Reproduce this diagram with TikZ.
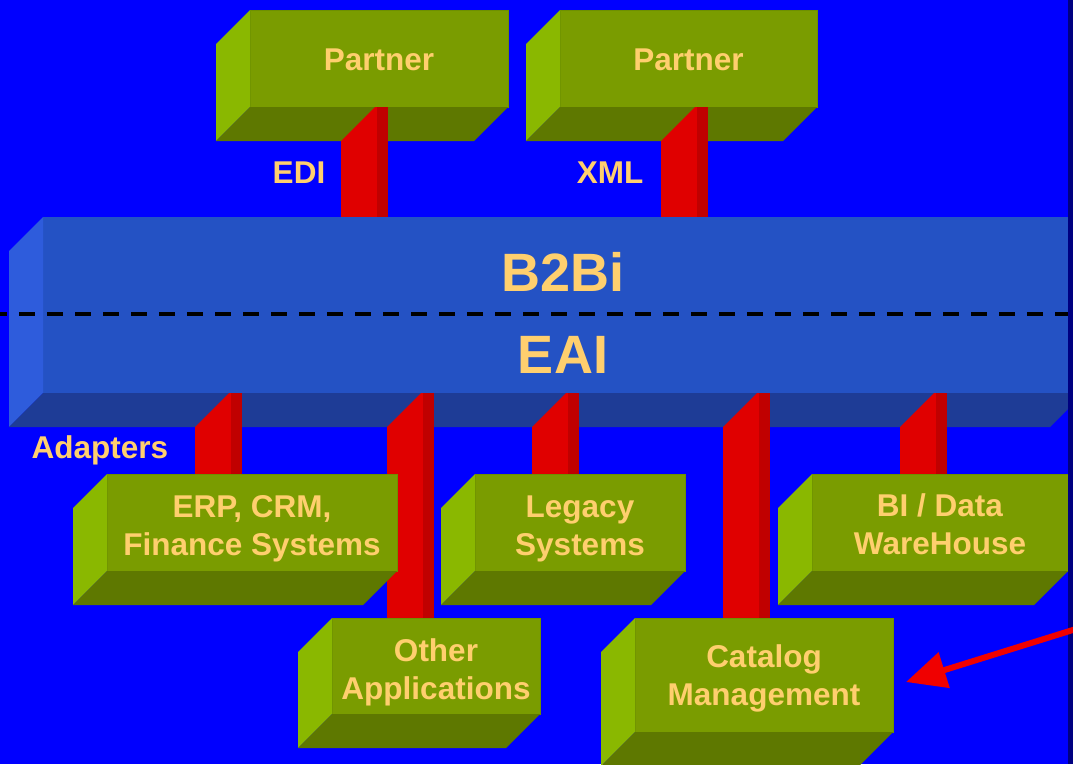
\documentclass[tikz,border=0pt]{standalone}
\usepackage{fontspec}
\setmainfont{Liberation Sans}
\usetikzlibrary{arrows.meta}
\definecolor{bgblue}{HTML}{0000FF}
\definecolor{navy}{HTML}{000080}
\definecolor{bfront}{HTML}{2452C4}
\definecolor{bleft}{HTML}{2E5CDC}
\definecolor{bbottom}{HTML}{1E3C96}
\definecolor{gfront}{HTML}{7A9C00}
\definecolor{gedge}{HTML}{6E9000}
\definecolor{gleft}{HTML}{8AB800}
\definecolor{gbottom}{HTML}{5E7800}
\definecolor{redL}{HTML}{E00000}
\definecolor{redD}{HTML}{C00000}
\definecolor{txt}{HTML}{FFCF6E}
\definecolor{arrowred}{HTML}{F00000}
\pgfdeclarelayer{lA}\pgfdeclarelayer{lB}\pgfdeclarelayer{lC}\pgfdeclarelayer{lD}\pgfdeclarelayer{bgl}
\pgfsetlayers{bgl,lA,lB,lC,lD,main}
\newcommand\boxsides[3]{%
  \fill[#2] (#1.north west) -- (#1.south west) -- ++(-34,34) -- ([shift={(-34,34)}]#1.north west) -- cycle;
  \fill[#3] (#1.south west) -- (#1.south east) -- ++(-34,34) -- ([shift={(-34,34)}]#1.south west) -- cycle;}
\newcommand\pillar[3]{%
  \fill[redL] (#1,0 |- #2) ++(0,34) -- ++(34,-34) -- ++(2,0) -- (#1+36,0 |- #3) -- (#1,0 |- #3) -- cycle;
  \fill[redD] (#1+36,0 |- #2) rectangle (#1+47,0 |- #3);}
\begin{document}
\begin{tikzpicture}[x=1pt,y=-1pt,
  lbl/.style={text=txt,font=\bfseries\fontsize{31.5}{38}\selectfont,align=center,inner sep=0pt},
  big/.style={text=txt,font=\bfseries\fontsize{54}{60}\selectfont,inner sep=0pt},
  gbox/.style={fill=gfront,draw=gedge,line width=1pt,outer sep=0pt,inner sep=0pt},
  bbox/.style={fill=bfront,outer sep=0pt,inner sep=0pt}]
\useasboundingbox (0,0) rectangle (1073,764);
\begin{pgfonlayer}{bgl}
\fill[bgblue] (0,0) rectangle (1073,764);
\end{pgfonlayer}
% Partner boxes
\begin{pgfonlayer}{lA}
\node[gbox,minimum width=258pt,minimum height=97pt] (p1) at (379,58.5) {};
\node[gbox,minimum width=257pt,minimum height=97pt] (p2) at (688.5,58.5) {};
\boxsides{p1}{gleft}{gbottom}
\boxsides{p2}{gleft}{gbottom}
\node[lbl] (p1t) at ([yshift=-1pt]p1.center) {Partner};
\node[lbl] (p2t) at ([yshift=-1pt]p2.center) {Partner};
\end{pgfonlayer}
% B2Bi / EAI bar
\begin{pgfonlayer}{lC}
\node[bbox,minimum width=1041pt,minimum height=176pt] (bus) at (563.5,305) {};
\boxsides{bus}{bleft}{bbottom}
\coordinate (dl) at (0,314);
\coordinate (dr) at (1073,314);
\draw[black,line width=4.5pt,dash pattern=on 16pt off 12pt,dash phase=9pt] (dl) -- (dr);
\node[big] (b2bi) at (563,272) {B2Bi};
\node[big] (eai) at (563,355) {EAI};
\end{pgfonlayer}
% lower boxes
\node[gbox,minimum width=290pt,minimum height=97pt] (erp) at (252,522.5) {};
\node[gbox,minimum width=210pt,minimum height=97pt] (legacy) at (580,522.5) {};
\node[gbox,minimum width=256pt,minimum height=97pt] (bi) at (940,522.5) {};
\boxsides{erp}{gleft}{gbottom}
\boxsides{legacy}{gleft}{gbottom}
\boxsides{bi}{gleft}{gbottom}
\node[gbox,minimum width=208pt,minimum height=96pt] (other) at (436,666) {};
\node[gbox,minimum width=258pt,minimum height=114pt] (catalog) at (764,675) {};
\boxsides{other}{gleft}{gbottom}
\boxsides{catalog}{gleft}{gbottom}
\node[lbl] (erpt) at ([yshift=-6pt]erp.center) {ERP, CRM,\\Finance Systems};
\node[lbl] (legacyt) at ([yshift=-6pt]legacy.center) {Legacy\\Systems};
\node[lbl] (bit) at ([yshift=-2pt]bi.center) {BI / Data\\WareHouse};
\node[lbl] (othert) at ([yshift=-6pt]other.center) {Other\\Applications};
\node[lbl] (catalogt) at ([yshift=-3pt]catalog.center) {Catalog\\Management};
% pillars
\begin{pgfonlayer}{lB}
\pillar{341}{p1.south}{bus.north}
\pillar{661}{p2.south}{bus.north}
\end{pgfonlayer}
\begin{pgfonlayer}{lD}
\pillar{195}{bus.south}{erp.north}
\pillar{387}{bus.south}{other.north}
\pillar{532}{bus.south}{legacy.north}
\pillar{723}{bus.south}{catalog.north}
\pillar{900}{bus.south}{bi.north}
\end{pgfonlayer}
% labels
\node[lbl] (edi) at (299,173) {EDI};
\node[lbl] (xml) at (610,173) {XML};
\node[lbl] (adapters) at (100,450) {Adapters};
% right strip
\fill[navy] (1068,0) rectangle (1073,764);
% arrow
\coordinate (astart) at (1076,629);
\coordinate (atip) at (906,682);
\draw[arrowred,line width=6pt,-{Triangle[length=40pt,width=36pt]}] (astart) -- (atip);
\end{tikzpicture}
\end{document}
